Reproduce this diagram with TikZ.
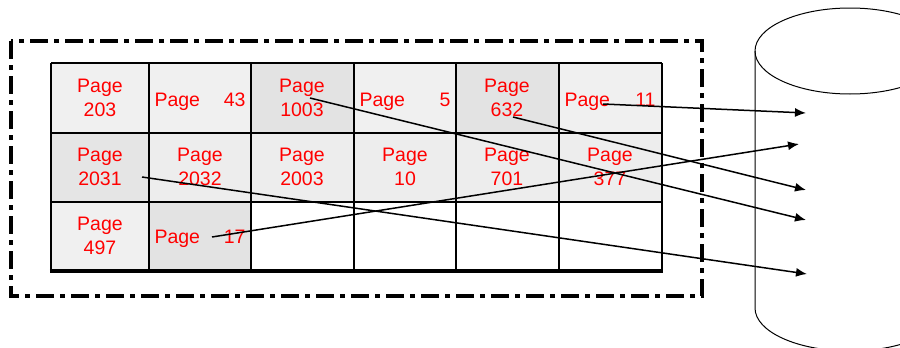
\documentclass[tikz,border=0pt]{standalone}
\usepackage{fontspec}
\setmainfont{Liberation Sans}
\usetikzlibrary{arrows.meta}
\begin{document}
\begin{tikzpicture}[x=1pt,y=-1pt,
    pg/.style={text=red,font=\fontsize{19.5}{23.5}\selectfont,align=center,inner sep=0pt},
    pgwide/.style={pg,text width=91pt,align=left,anchor=base},
    ptr/.style={-{Latex[length=11pt,width=9pt]},line width=1.5pt}]
  \useasboundingbox (0,0) rectangle (900,348);
  % buffer cells
  \foreach \xa/\xb/\ya/\yb/\c in {51/149/63/133/12,149/251/63/133/12,251/354/63/133/22,
                                  354/456/63/133/12,456/559/63/133/22,559/662/63/133/12,
                                  51/149/133/202/20,149/251/133/202/14,251/354/133/202/14,
                                  354/456/133/202/14,456/559/133/202/14,559/662/133/202/14,
                                  51/149/202/271/12,149/251/202/271/22}
    \fill[gray!\c] (\xa,\ya) rectangle (\xb,\yb);
  \foreach \x in {51,149,251,354,456,559,662}
    \draw[line width=2.4pt] (\x,63) -- (\x,271);
  \foreach \y in {63,133,202}
    \draw[line width=2.4pt] (51,\y) -- (662,\y);
  \draw[line width=3.4pt] (49.8,271) -- (663.2,271);
  \draw[line width=3.5pt,dash pattern=on 18pt off 6pt on 5pt off 6pt] (11,41) rectangle (702,296);
  % disk
  \draw[line width=1pt] (850,51) ellipse [x radius=95pt,y radius=43pt];
  \draw[line width=1pt] (755,51) -- (755,308) arc [start angle=180,end angle=360,x radius=95pt,y radius=43pt];
  % pages
  \node[pg] (p203) at (100,98) {Page\\203};
  \node[pgwide] (p43) at (200,106) {Page\hfill 43};
  \node[pg] (p1003) at (302,98) {Page\\1003};
  \node[pgwide] (p5) at (405,106) {Page\hfill 5};
  \node[pg] (p632) at (507,98) {Page\\632};
  \node[pgwide] (p11) at (610,106) {Page\hfill 11};
  \node[pg] (p2031) at (100,167) {Page\\2031};
  \node[pg] (p2032) at (200,167) {Page\\2032};
  \node[pg] (p2003) at (302,167) {Page\\2003};
  \node[pg] (p10) at (405,167) {Page\\10};
  \node[pg] (p701) at (507,167) {Page\\701};
  \node[pg] (p377) at (610,167) {Page\\377};
  \node[pg] (p497) at (100,236) {Page\\497};
  \node[pgwide] (p17) at (200,243) {Page\hfill 17};
  % pointers to disk
  \coordinate (s11) at (603,104);   \coordinate (d1) at (806,113);
  \coordinate (s17) at (212,237);   \coordinate (d2) at (799,144);
  \coordinate (s632) at (513,117);  \coordinate (d3) at (806,190);
  \coordinate (s1003) at (310,98);  \coordinate (d4) at (806,220);
  \coordinate (s2031) at (142,177); \coordinate (d5) at (807,274);
  \foreach \s/\d in {s11/d1,s17/d2,s632/d3,s1003/d4,s2031/d5}
    \draw[ptr] (\s) -- (\d);
\end{tikzpicture}
\end{document}
